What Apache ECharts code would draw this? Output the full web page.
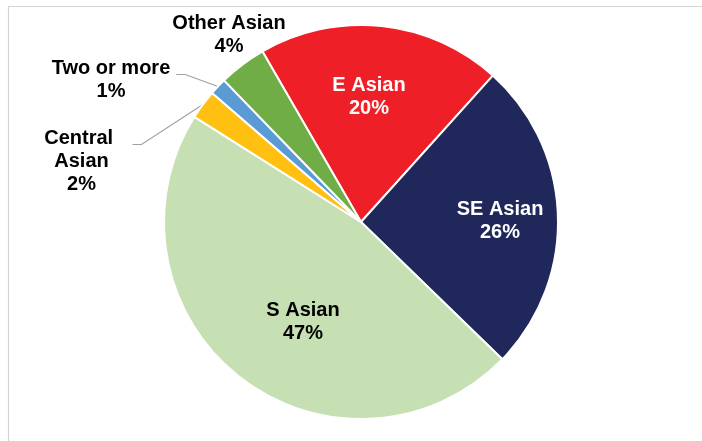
<!DOCTYPE html>
<html>
<head>
<meta charset="utf-8">
<script src="https://cdn.jsdelivr.net/npm/echarts@6/dist/echarts.min.js"></script>
<style>
html,body{margin:0;padding:0;background:#ffffff;}
#chart{width:702px;height:441px;}
</style>
</head>
<body>
<div id="chart"></div>
<script>
// ---- data ----
const categories = ['E Asian', 'SE Asian', 'S Asian', 'Central Asian', 'Two or more', 'Other Asian'];
const shares = [20.0, 25.6, 46.7, 2.4, 1.4, 3.9];

// ---- styling (kept apart from the data) ----
const sliceColors = ['#EE1F26', '#20275B', '#C6E0B4', '#FFC012', '#5B9BD5', '#70AD47'];
const labelColors = ['#ffffff', '#ffffff', '#000000', '#000000', '#000000', '#000000'];
const labelPlace = ['inside', 'inside', 'inside', 'outside', 'outside', 'outside'];
const leaderShown = [false, false, false, true, true, false];
const labelSpots = [
  {x: 369, y: 96.5},
  {x: 500, y: 221},
  {x: 303, y: 321.5},
  {x: 81.5, y: 161},
  {x: 111, y: 79.5},
  {x: 229, y: 34.5}
];

const chart = echarts.init(document.getElementById('chart'), null, {renderer: 'canvas'});

const seriesData = categories.map(function (name, i) {
  const item = {
    name: name,
    value: shares[i],
    itemStyle: {color: sliceColors[i]},
    label: {position: labelPlace[i], color: labelColors[i]},
    labelLine: {show: leaderShown[i]}
  };
  if (name === 'Central Asian') {
    item.label.width = 90;
    item.label.overflow = 'break';
  }
  return item;
});

chart.setOption({
  animation: false,
  backgroundColor: '#ffffff',
  graphic: [{
    type: 'rect',
    silent: true,
    shape: {x: 8.5, y: 6.5, width: 900, height: 600},
    style: {fill: 'none', stroke: '#d4d4d4', lineWidth: 1.2}
  }],
  series: [{
    type: 'pie',
    center: [361, 222],
    radius: [0, 197],
    startAngle: 120,
    clockwise: true,
    avoidLabelOverlap: false,
    percentPrecision: 0,
    emphasis: {disabled: true},
    itemStyle: {borderColor: '#ffffff', borderWidth: 2},
    label: {
      show: true,
      formatter: '{b}\n{d}%',
      fontFamily: 'Liberation Sans, Arial, sans-serif',
      fontWeight: 'bold',
      fontSize: 20,
      lineHeight: 23,
      align: 'center'
    },
    labelLine: {
      length: 10,
      length2: 8,
      lineStyle: {color: '#A0A0A0', width: 1.2}
    },
    labelLayout: function (p) {
      const s = labelSpots[p.dataIndex];
      const res = {x: s.x, y: s.y, align: 'center', verticalAlign: 'middle'};
      if (leaderShown[p.dataIndex] && p.labelLinePoints && p.labelRect) {
        const w = p.labelRect.width, h = p.labelRect.height;
        const ax = s.x + w / 2 + 6;
        const ay = s.y - h / 2 + 18;
        res.labelLinePoints = [p.labelLinePoints[0], [ax + 9, ay], [ax, ay]];
      }
      return res;
    },
    data: seriesData
  }]
});
</script>
</body>
</html>
